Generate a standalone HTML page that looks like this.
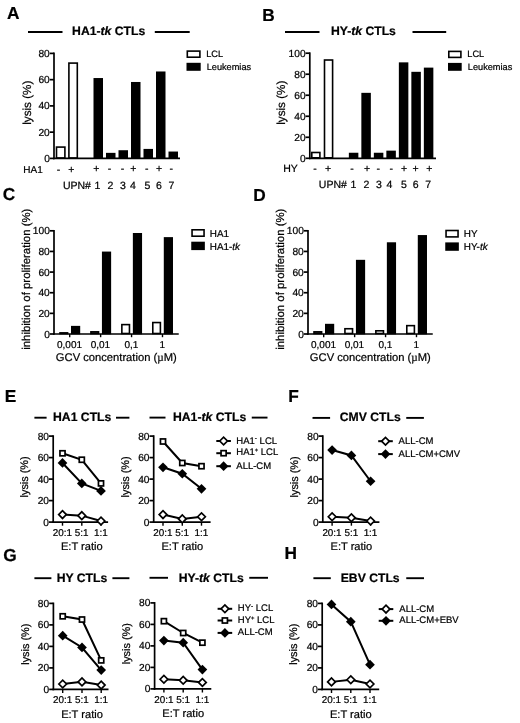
<!DOCTYPE html>
<html><head><meta charset="utf-8"><title>Figure</title>
<style>
html,body{margin:0;padding:0;background:#fff;}
svg{display:block;font-family:"Liberation Sans",sans-serif;fill:#000;}
text{stroke:#000;stroke-width:0.22px;text-rendering:geometricPrecision;}
</style></head><body>
<svg width="520" height="723" viewBox="0 0 520 723">
<rect width="520" height="723" fill="#fff"/>
<text x="6.9" y="18.7" font-size="17.3" text-anchor="start" font-weight="bold">A</text>
<line x1="28" y1="32" x2="62.5" y2="32" stroke="#000" stroke-width="1.9"/>
<line x1="154.8" y1="32" x2="189.7" y2="32" stroke="#000" stroke-width="1.9"/>
<text x="108.7" y="35.3" font-size="12.2" text-anchor="middle" font-weight="bold">HA1-<tspan font-style="italic">tk</tspan> CTLs</text>
<line x1="54" y1="52.55" x2="54" y2="159.25" stroke="#000" stroke-width="1.7"/>
<line x1="49.8" y1="158.4" x2="54" y2="158.4" stroke="#000" stroke-width="1.7"/>
<text x="49.8" y="161.9" font-size="10.2" text-anchor="end">0</text>
<line x1="49.8" y1="132.15" x2="54" y2="132.15" stroke="#000" stroke-width="1.7"/>
<text x="49.8" y="135.65" font-size="10.2" text-anchor="end">20</text>
<line x1="49.8" y1="105.9" x2="54" y2="105.9" stroke="#000" stroke-width="1.7"/>
<text x="49.8" y="109.4" font-size="10.2" text-anchor="end">40</text>
<line x1="49.8" y1="79.65" x2="54" y2="79.65" stroke="#000" stroke-width="1.7"/>
<text x="49.8" y="83.15" font-size="10.2" text-anchor="end">60</text>
<line x1="49.8" y1="53.400000000000006" x2="54" y2="53.400000000000006" stroke="#000" stroke-width="1.7"/>
<text x="49.8" y="56.900000000000006" font-size="10.2" text-anchor="end">80</text>
<line x1="53.15" y1="158.4" x2="180" y2="158.4" stroke="#000" stroke-width="1.7"/>
<text transform="translate(30.5,102.7) rotate(-90) scale(1.0 1)" font-size="11.70" text-anchor="middle">lysis (%)</text>
<rect x="56.50" y="147.09" width="8.40" height="10.81" fill="#fff" stroke="#000" stroke-width="1.6"/>
<rect x="68.90" y="63.09" width="8.40" height="94.81" fill="#fff" stroke="#000" stroke-width="1.6"/>
<rect x="93.5" y="78.03750000000001" width="9.5" height="80.6625" fill="#000"/>
<rect x="106.0" y="152.85" width="9.5" height="5.85" fill="#000"/>
<rect x="118.5" y="150.225" width="9.5" height="8.475000000000001" fill="#000"/>
<rect x="131.0" y="81.97500000000001" width="9.5" height="76.725" fill="#000"/>
<rect x="143.5" y="148.9125" width="9.5" height="9.787500000000001" fill="#000"/>
<rect x="156.0" y="71.47500000000001" width="9.5" height="87.225" fill="#000"/>
<rect x="168.5" y="151.5375" width="9.5" height="7.1625" fill="#000"/>
<text x="23.3" y="172.6" font-size="10.0" text-anchor="start">HA1</text>
<text x="58.6" y="172.6" font-size="10.5" text-anchor="middle">-</text>
<text x="71.4" y="172.6" font-size="10.5" text-anchor="middle">+</text>
<text x="96.4" y="172.0" font-size="10.5" text-anchor="middle">+</text>
<text x="109.6" y="172.0" font-size="10.5" text-anchor="middle">-</text>
<text x="122.4" y="172.0" font-size="10.5" text-anchor="middle">-</text>
<text x="133.4" y="172.0" font-size="10.5" text-anchor="middle">+</text>
<text x="146.8" y="172.0" font-size="10.5" text-anchor="middle">-</text>
<text x="159" y="172.0" font-size="10.5" text-anchor="middle">+</text>
<text x="171.3" y="172.0" font-size="10.5" text-anchor="middle">-</text>
<text x="62.9" y="188.6" font-size="10.5" text-anchor="start">UPN#</text>
<text x="97.3" y="188.6" font-size="10.5" text-anchor="middle">1</text>
<text x="110.3" y="188.6" font-size="10.5" text-anchor="middle">2</text>
<text x="122.8" y="188.6" font-size="10.5" text-anchor="middle">3</text>
<text x="133" y="188.6" font-size="10.5" text-anchor="middle">4</text>
<text x="147.3" y="188.6" font-size="10.5" text-anchor="middle">5</text>
<text x="159" y="188.6" font-size="10.5" text-anchor="middle">6</text>
<text x="171.5" y="188.6" font-size="10.5" text-anchor="middle">7</text>
<rect x="187.30" y="51.10" width="12.60" height="6.10" fill="#fff" stroke="#000" stroke-width="1.6"/>
<text x="206.2" y="57.3" font-size="9.2" text-anchor="start">LCL</text>
<rect x="186.5" y="62.8" width="14.2" height="8" fill="#000"/>
<text x="206.7" y="69.9" font-size="9.2" text-anchor="start">Leukemias</text>
<text x="262.2" y="20.5" font-size="17.3" text-anchor="start" font-weight="bold">B</text>
<line x1="285" y1="32" x2="319.5" y2="32" stroke="#000" stroke-width="1.9"/>
<line x1="412.5" y1="32" x2="446.2" y2="32" stroke="#000" stroke-width="1.9"/>
<text x="363.4" y="35.3" font-size="12.2" text-anchor="middle" font-weight="bold">HY-<tspan font-style="italic">tk</tspan> CTLs</text>
<line x1="309.8" y1="52.35" x2="309.8" y2="159.15" stroke="#000" stroke-width="1.7"/>
<line x1="305.6" y1="158.3" x2="309.8" y2="158.3" stroke="#000" stroke-width="1.7"/>
<text x="305.6" y="161.8" font-size="10.2" text-anchor="end">0</text>
<line x1="305.6" y1="137.28" x2="309.8" y2="137.28" stroke="#000" stroke-width="1.7"/>
<text x="305.6" y="140.78" font-size="10.2" text-anchor="end">20</text>
<line x1="305.6" y1="116.26000000000002" x2="309.8" y2="116.26000000000002" stroke="#000" stroke-width="1.7"/>
<text x="305.6" y="119.76000000000002" font-size="10.2" text-anchor="end">40</text>
<line x1="305.6" y1="95.24000000000001" x2="309.8" y2="95.24000000000001" stroke="#000" stroke-width="1.7"/>
<text x="305.6" y="98.74000000000001" font-size="10.2" text-anchor="end">60</text>
<line x1="305.6" y1="74.22000000000001" x2="309.8" y2="74.22000000000001" stroke="#000" stroke-width="1.7"/>
<text x="305.6" y="77.72000000000001" font-size="10.2" text-anchor="end">80</text>
<line x1="305.6" y1="53.20000000000002" x2="309.8" y2="53.20000000000002" stroke="#000" stroke-width="1.7"/>
<text x="305.6" y="56.70000000000002" font-size="10.2" text-anchor="end">100</text>
<line x1="308.95" y1="158.3" x2="436" y2="158.3" stroke="#000" stroke-width="1.7"/>
<text transform="translate(285,102.7) rotate(-90) scale(1.0 1)" font-size="11.70" text-anchor="middle">lysis (%)</text>
<rect x="311.80" y="152.49" width="8.10" height="5.31" fill="#fff" stroke="#000" stroke-width="1.6"/>
<rect x="324.50" y="60.01" width="8.10" height="97.79" fill="#fff" stroke="#000" stroke-width="1.6"/>
<rect x="348.85" y="152.745" width="9.5" height="5.855" fill="#000"/>
<rect x="361.35" y="92.83800000000001" width="9.5" height="65.762" fill="#000"/>
<rect x="373.85" y="152.745" width="9.5" height="5.855" fill="#000"/>
<rect x="386.35" y="150.643" width="9.5" height="7.957000000000001" fill="#000"/>
<rect x="398.85" y="62.358999999999995" width="9.5" height="96.24100000000001" fill="#000"/>
<rect x="411.35" y="71.818" width="9.5" height="86.78200000000001" fill="#000"/>
<rect x="423.85" y="67.614" width="9.5" height="90.986" fill="#000"/>
<text x="283.2" y="172.4" font-size="10.5" text-anchor="start">HY</text>
<text x="314.9" y="171.8" font-size="10.5" text-anchor="middle">-</text>
<text x="328.1" y="171.8" font-size="10.5" text-anchor="middle">+</text>
<text x="351.9" y="171.8" font-size="10.5" text-anchor="middle">-</text>
<text x="367" y="171.8" font-size="10.5" text-anchor="middle">+</text>
<text x="378.2" y="171.8" font-size="10.5" text-anchor="middle">-</text>
<text x="391.25" y="171.8" font-size="10.5" text-anchor="middle">-</text>
<text x="404.0" y="171.8" font-size="10.5" text-anchor="middle">+</text>
<text x="415.5" y="171.8" font-size="10.5" text-anchor="middle">+</text>
<text x="429.4" y="171.8" font-size="10.5" text-anchor="middle">+</text>
<text x="318.8" y="188.4" font-size="10.5" text-anchor="start">UPN#</text>
<text x="353.3" y="188.4" font-size="10.5" text-anchor="middle">1</text>
<text x="366.5" y="188.4" font-size="10.5" text-anchor="middle">2</text>
<text x="379" y="188.4" font-size="10.5" text-anchor="middle">3</text>
<text x="389.5" y="188.4" font-size="10.5" text-anchor="middle">4</text>
<text x="403.8" y="188.4" font-size="10.5" text-anchor="middle">5</text>
<text x="415.7" y="188.4" font-size="10.5" text-anchor="middle">6</text>
<text x="428.1" y="188.4" font-size="10.5" text-anchor="middle">7</text>
<rect x="448.80" y="51.40" width="12.10" height="6.00" fill="#fff" stroke="#000" stroke-width="1.6"/>
<text x="467.3" y="57.3" font-size="9.2" text-anchor="start">LCL</text>
<rect x="448" y="62.9" width="13.7" height="7.9" fill="#000"/>
<text x="467.8" y="69.9" font-size="9.2" text-anchor="start">Leukemias</text>
<text x="2.8" y="200.2" font-size="17.3" text-anchor="start" font-weight="bold">C</text>
<line x1="54" y1="229.95000000000002" x2="54" y2="334.85" stroke="#000" stroke-width="1.7"/>
<line x1="49.8" y1="334.0" x2="54" y2="334.0" stroke="#000" stroke-width="1.7"/>
<text x="49.8" y="337.5" font-size="10.2" text-anchor="end">0</text>
<line x1="49.8" y1="313.36" x2="54" y2="313.36" stroke="#000" stroke-width="1.7"/>
<text x="49.8" y="316.86" font-size="10.2" text-anchor="end">20</text>
<line x1="49.8" y1="292.72" x2="54" y2="292.72" stroke="#000" stroke-width="1.7"/>
<text x="49.8" y="296.22" font-size="10.2" text-anchor="end">40</text>
<line x1="49.8" y1="272.08000000000004" x2="54" y2="272.08000000000004" stroke="#000" stroke-width="1.7"/>
<text x="49.8" y="275.58000000000004" font-size="10.2" text-anchor="end">60</text>
<line x1="49.8" y1="251.44" x2="54" y2="251.44" stroke="#000" stroke-width="1.7"/>
<text x="49.8" y="254.94" font-size="10.2" text-anchor="end">80</text>
<line x1="49.8" y1="230.8" x2="54" y2="230.8" stroke="#000" stroke-width="1.7"/>
<text x="49.8" y="234.3" font-size="10.2" text-anchor="end">100</text>
<line x1="53.15" y1="334.0" x2="178.75" y2="334.0" stroke="#000" stroke-width="1.7"/>
<text transform="translate(30,279.2) rotate(-90) scale(1.0 1)" font-size="11.40" text-anchor="middle">inhibition of proliferation (%)</text>
<line x1="69.7" y1="334.0" x2="69.7" y2="337.2" stroke="#000" stroke-width="1.4"/>
<rect x="60.00" y="332.87" width="7.60" height="0.63" fill="#fff" stroke="#000" stroke-width="1.6"/>
<rect x="71.0" y="325.876" width="9.2" height="8.424" fill="#000"/>
<text x="69.5" y="347.8" font-size="10" text-anchor="middle">0,001</text>
<line x1="100.63" y1="334.0" x2="100.63" y2="337.2" stroke="#000" stroke-width="1.4"/>
<rect x="90.93" y="331.84" width="7.60" height="1.66" fill="#fff" stroke="#000" stroke-width="1.6"/>
<rect x="101.92999999999999" y="251.572" width="9.2" height="82.728" fill="#000"/>
<text x="100.42999999999999" y="347.8" font-size="10" text-anchor="middle">0,01</text>
<line x1="131.56" y1="334.0" x2="131.56" y2="337.2" stroke="#000" stroke-width="1.4"/>
<rect x="121.86" y="324.61" width="7.60" height="8.89" fill="#fff" stroke="#000" stroke-width="1.6"/>
<rect x="132.86" y="232.996" width="9.2" height="101.30399999999999" fill="#000"/>
<text x="131.36" y="347.8" font-size="10" text-anchor="middle">0,1</text>
<line x1="162.49" y1="334.0" x2="162.49" y2="337.2" stroke="#000" stroke-width="1.4"/>
<rect x="152.79" y="322.55" width="7.60" height="10.95" fill="#fff" stroke="#000" stroke-width="1.6"/>
<rect x="163.79000000000002" y="237.12400000000002" width="9.2" height="97.17599999999999" fill="#000"/>
<text x="162.29000000000002" y="347.8" font-size="10" text-anchor="middle">1</text>
<text x="116.3" y="361.2" font-size="11.2" text-anchor="middle">GCV concentration (<tspan font-family="Liberation Serif,serif">µ</tspan>M)</text>
<rect x="192.05" y="229.80" width="12.00" height="6.40" fill="#fff" stroke="#000" stroke-width="1.6"/>
<text x="209.8" y="236.7" font-size="9.9" text-anchor="start">HA1</text>
<rect x="191.25" y="241.7" width="13.6" height="8.4" fill="#000"/>
<text x="209.8" y="249.6" font-size="9.9" text-anchor="start">HA1-<tspan font-style="italic">tk</tspan></text>
<text x="253.20000000000002" y="200.6" font-size="17.3" text-anchor="start" font-weight="bold">D</text>
<line x1="308" y1="229.95000000000002" x2="308" y2="334.85" stroke="#000" stroke-width="1.7"/>
<line x1="303.8" y1="334.0" x2="308" y2="334.0" stroke="#000" stroke-width="1.7"/>
<text x="303.8" y="337.5" font-size="10.2" text-anchor="end">0</text>
<line x1="303.8" y1="313.36" x2="308" y2="313.36" stroke="#000" stroke-width="1.7"/>
<text x="303.8" y="316.86" font-size="10.2" text-anchor="end">20</text>
<line x1="303.8" y1="292.72" x2="308" y2="292.72" stroke="#000" stroke-width="1.7"/>
<text x="303.8" y="296.22" font-size="10.2" text-anchor="end">40</text>
<line x1="303.8" y1="272.08000000000004" x2="308" y2="272.08000000000004" stroke="#000" stroke-width="1.7"/>
<text x="303.8" y="275.58000000000004" font-size="10.2" text-anchor="end">60</text>
<line x1="303.8" y1="251.44" x2="308" y2="251.44" stroke="#000" stroke-width="1.7"/>
<text x="303.8" y="254.94" font-size="10.2" text-anchor="end">80</text>
<line x1="303.8" y1="230.8" x2="308" y2="230.8" stroke="#000" stroke-width="1.7"/>
<text x="303.8" y="234.3" font-size="10.2" text-anchor="end">100</text>
<line x1="307.15" y1="334.0" x2="432.75" y2="334.0" stroke="#000" stroke-width="1.7"/>
<text transform="translate(284,279.2) rotate(-90) scale(1.0 1)" font-size="11.40" text-anchor="middle">inhibition of proliferation (%)</text>
<line x1="323.7" y1="334.0" x2="323.7" y2="337.2" stroke="#000" stroke-width="1.4"/>
<rect x="314.00" y="331.84" width="7.60" height="1.66" fill="#fff" stroke="#000" stroke-width="1.6"/>
<rect x="325.0" y="323.812" width="9.2" height="10.488" fill="#000"/>
<text x="323.5" y="347.8" font-size="10" text-anchor="middle">0,001</text>
<line x1="354.63" y1="334.0" x2="354.63" y2="337.2" stroke="#000" stroke-width="1.4"/>
<rect x="344.93" y="328.74" width="7.60" height="4.76" fill="#fff" stroke="#000" stroke-width="1.6"/>
<rect x="355.93" y="259.828" width="9.2" height="74.472" fill="#000"/>
<text x="354.43" y="347.8" font-size="10" text-anchor="middle">0,01</text>
<line x1="385.56" y1="334.0" x2="385.56" y2="337.2" stroke="#000" stroke-width="1.4"/>
<rect x="375.86" y="330.80" width="7.60" height="2.70" fill="#fff" stroke="#000" stroke-width="1.6"/>
<rect x="386.86" y="242.284" width="9.2" height="92.01599999999999" fill="#000"/>
<text x="385.36" y="347.8" font-size="10" text-anchor="middle">0,1</text>
<line x1="416.49" y1="334.0" x2="416.49" y2="337.2" stroke="#000" stroke-width="1.4"/>
<rect x="406.79" y="325.64" width="7.60" height="7.86" fill="#fff" stroke="#000" stroke-width="1.6"/>
<rect x="417.79" y="235.06" width="9.2" height="99.23999999999998" fill="#000"/>
<text x="416.29" y="347.8" font-size="10" text-anchor="middle">1</text>
<text x="370.3" y="361.2" font-size="11.2" text-anchor="middle">GCV concentration (<tspan font-family="Liberation Serif,serif">µ</tspan>M)</text>
<rect x="446.05" y="230.50" width="12.00" height="6.40" fill="#fff" stroke="#000" stroke-width="1.6"/>
<text x="463.8" y="237.04999999999998" font-size="9.9" text-anchor="start">HY</text>
<rect x="445.25" y="242.39999999999998" width="13.6" height="8.4" fill="#000"/>
<text x="463.8" y="249.95" font-size="9.9" text-anchor="start">HY-<tspan font-style="italic">tk</tspan></text>
<text x="4.7" y="401.9" font-size="17.3" text-anchor="start" font-weight="bold">E</text>
<line x1="34.4" y1="417.7" x2="46.6" y2="417.7" stroke="#000" stroke-width="1.9"/>
<line x1="116" y1="417.7" x2="129.4" y2="417.7" stroke="#000" stroke-width="1.9"/>
<text x="82.2" y="421.3" font-size="12.2" text-anchor="middle" font-weight="bold">HA1 CTLs</text>
<line x1="53.2" y1="435.25" x2="53.2" y2="522.95" stroke="#000" stroke-width="1.7"/>
<line x1="49.0" y1="522.1" x2="53.2" y2="522.1" stroke="#000" stroke-width="1.7"/>
<text x="49.0" y="525.6" font-size="10.2" text-anchor="end">0</text>
<line x1="49.0" y1="500.6" x2="53.2" y2="500.6" stroke="#000" stroke-width="1.7"/>
<text x="49.0" y="504.1" font-size="10.2" text-anchor="end">20</text>
<line x1="49.0" y1="479.1" x2="53.2" y2="479.1" stroke="#000" stroke-width="1.7"/>
<text x="49.0" y="482.6" font-size="10.2" text-anchor="end">40</text>
<line x1="49.0" y1="457.6" x2="53.2" y2="457.6" stroke="#000" stroke-width="1.7"/>
<text x="49.0" y="461.1" font-size="10.2" text-anchor="end">60</text>
<line x1="49.0" y1="436.1" x2="53.2" y2="436.1" stroke="#000" stroke-width="1.7"/>
<text x="49.0" y="439.6" font-size="10.2" text-anchor="end">80</text>
<line x1="52.35" y1="522.1" x2="108.1" y2="522.1" stroke="#000" stroke-width="1.7"/>
<line x1="62.5" y1="522.1" x2="62.5" y2="525.7" stroke="#000" stroke-width="1.4"/>
<line x1="81.80000000000001" y1="522.1" x2="81.80000000000001" y2="525.7" stroke="#000" stroke-width="1.4"/>
<line x1="101.0" y1="522.1" x2="101.0" y2="525.7" stroke="#000" stroke-width="1.4"/>
<text transform="translate(28.300000000000004,476.90000000000003) rotate(-90) scale(1.0 1)" font-size="10.90" text-anchor="middle">lysis (%)</text>
<polyline points="62.50,514.58 81.80,515.65 101.00,521.02" fill="none" stroke="#000" stroke-width="2.0"/>
<polyline points="62.50,453.30 81.80,459.75 101.00,483.40" fill="none" stroke="#000" stroke-width="2.0"/>
<polyline points="62.50,462.98 81.80,483.40 101.00,490.93" fill="none" stroke="#000" stroke-width="2.0"/>
<path d="M58.65 514.58L62.50 510.73L66.35 514.58L62.50 518.43Z" fill="#fff" stroke="#000" stroke-width="1.7"/>
<path d="M77.95 515.65L81.80 511.80L85.65 515.65L81.80 519.50Z" fill="#fff" stroke="#000" stroke-width="1.7"/>
<path d="M97.15 521.02L101.00 517.17L104.85 521.02L101.00 524.88Z" fill="#fff" stroke="#000" stroke-width="1.7"/>
<rect x="59.95" y="450.75" width="5.1" height="5.1" fill="#fff" stroke="#000" stroke-width="1.7"/>
<rect x="79.25" y="457.20" width="5.1" height="5.1" fill="#fff" stroke="#000" stroke-width="1.7"/>
<rect x="98.45" y="480.85" width="5.1" height="5.1" fill="#fff" stroke="#000" stroke-width="1.7"/>
<path d="M57.65 462.98L62.50 458.12L67.35 462.98L62.50 467.83Z" fill="#000"/>
<path d="M76.95 483.40L81.80 478.55L86.65 483.40L81.80 488.25Z" fill="#000"/>
<path d="M96.15 490.93L101.00 486.07L105.85 490.93L101.00 495.78Z" fill="#000"/>
<text x="62.4" y="535.9" font-size="9.9" text-anchor="middle">20:1</text>
<text x="81.70000000000002" y="535.9" font-size="9.9" text-anchor="middle">5:1</text>
<text x="100.9" y="535.9" font-size="9.9" text-anchor="middle">1:1</text>
<text x="81.80000000000001" y="550.4" font-size="11.1" text-anchor="middle">E:T ratio</text>
<line x1="149.5" y1="417.6" x2="165.5" y2="417.6" stroke="#000" stroke-width="1.9"/>
<line x1="251.75" y1="417.6" x2="267.5" y2="417.6" stroke="#000" stroke-width="1.9"/>
<text x="209.6" y="421.3" font-size="12.2" text-anchor="middle" font-weight="bold">HA1-<tspan font-style="italic">tk</tspan> CTLs</text>
<line x1="153.7" y1="435.25" x2="153.7" y2="522.95" stroke="#000" stroke-width="1.7"/>
<line x1="149.5" y1="522.1" x2="153.7" y2="522.1" stroke="#000" stroke-width="1.7"/>
<text x="149.5" y="525.6" font-size="10.2" text-anchor="end">0</text>
<line x1="149.5" y1="500.6" x2="153.7" y2="500.6" stroke="#000" stroke-width="1.7"/>
<text x="149.5" y="504.1" font-size="10.2" text-anchor="end">20</text>
<line x1="149.5" y1="479.1" x2="153.7" y2="479.1" stroke="#000" stroke-width="1.7"/>
<text x="149.5" y="482.6" font-size="10.2" text-anchor="end">40</text>
<line x1="149.5" y1="457.6" x2="153.7" y2="457.6" stroke="#000" stroke-width="1.7"/>
<text x="149.5" y="461.1" font-size="10.2" text-anchor="end">60</text>
<line x1="149.5" y1="436.1" x2="153.7" y2="436.1" stroke="#000" stroke-width="1.7"/>
<text x="149.5" y="439.6" font-size="10.2" text-anchor="end">80</text>
<line x1="152.85" y1="522.1" x2="210.6" y2="522.1" stroke="#000" stroke-width="1.7"/>
<line x1="163.0" y1="522.1" x2="163.0" y2="525.7" stroke="#000" stroke-width="1.4"/>
<line x1="182.29999999999998" y1="522.1" x2="182.29999999999998" y2="525.7" stroke="#000" stroke-width="1.4"/>
<line x1="201.5" y1="522.1" x2="201.5" y2="525.7" stroke="#000" stroke-width="1.4"/>
<text transform="translate(128.79999999999998,476.90000000000003) rotate(-90) scale(1.0 1)" font-size="10.90" text-anchor="middle">lysis (%)</text>
<polyline points="163.00,514.58 182.30,518.88 201.50,516.73" fill="none" stroke="#000" stroke-width="2.0"/>
<polyline points="163.00,441.48 182.30,462.98 201.50,466.20" fill="none" stroke="#000" stroke-width="2.0"/>
<polyline points="163.00,467.28 182.30,473.73 201.50,488.78" fill="none" stroke="#000" stroke-width="2.0"/>
<path d="M159.15 514.58L163.00 510.73L166.85 514.58L163.00 518.43Z" fill="#fff" stroke="#000" stroke-width="1.7"/>
<path d="M178.45 518.88L182.30 515.02L186.15 518.88L182.30 522.73Z" fill="#fff" stroke="#000" stroke-width="1.7"/>
<path d="M197.65 516.73L201.50 512.88L205.35 516.73L201.50 520.58Z" fill="#fff" stroke="#000" stroke-width="1.7"/>
<rect x="160.45" y="438.93" width="5.1" height="5.1" fill="#fff" stroke="#000" stroke-width="1.7"/>
<rect x="179.75" y="460.43" width="5.1" height="5.1" fill="#fff" stroke="#000" stroke-width="1.7"/>
<rect x="198.95" y="463.65" width="5.1" height="5.1" fill="#fff" stroke="#000" stroke-width="1.7"/>
<path d="M158.15 467.28L163.00 462.43L167.85 467.28L163.00 472.13Z" fill="#000"/>
<path d="M177.45 473.73L182.30 468.88L187.15 473.73L182.30 478.58Z" fill="#000"/>
<path d="M196.65 488.78L201.50 483.93L206.35 488.78L201.50 493.63Z" fill="#000"/>
<text x="162.9" y="535.9" font-size="9.9" text-anchor="middle">20:1</text>
<text x="182.2" y="535.9" font-size="9.9" text-anchor="middle">5:1</text>
<text x="201.4" y="535.9" font-size="9.9" text-anchor="middle">1:1</text>
<text x="182.29999999999998" y="550.4" font-size="11.1" text-anchor="middle">E:T ratio</text>
<line x1="216.29999999999998" y1="441" x2="230.9" y2="441" stroke="#000" stroke-width="2.0"/>
<path d="M219.75 441.00L223.60 437.15L227.45 441.00L223.60 444.85Z" fill="#fff" stroke="#000" stroke-width="1.7"/>
<text x="236.3" y="443.5" font-size="9.5" text-anchor="start">HA1<tspan dy="-3.2" font-size="6.5">-</tspan><tspan dy="3.2"> LCL</tspan></text>
<line x1="216.29999999999998" y1="453.2" x2="230.9" y2="453.2" stroke="#000" stroke-width="2.0"/>
<rect x="221.05" y="450.65" width="5.1" height="5.1" fill="#fff" stroke="#000" stroke-width="1.7"/>
<text x="236.3" y="454.8" font-size="9.5" text-anchor="start">HA1<tspan dy="-3.2" font-size="5.8">+</tspan><tspan dy="3.2"> LCL</tspan></text>
<line x1="216.29999999999998" y1="466.2" x2="230.9" y2="466.2" stroke="#000" stroke-width="2.0"/>
<path d="M218.75 466.20L223.60 461.35L228.45 466.20L223.60 471.05Z" fill="#000"/>
<text x="236.3" y="468.7" font-size="9.5" text-anchor="start">ALL-CM</text>
<text x="288.3" y="402" font-size="17.3" text-anchor="start" font-weight="bold">F</text>
<line x1="312.5" y1="417.9" x2="330.1" y2="417.9" stroke="#000" stroke-width="1.9"/>
<line x1="406.25" y1="417.9" x2="423.9" y2="417.9" stroke="#000" stroke-width="1.9"/>
<text x="370.2" y="421.4" font-size="12.2" text-anchor="middle" font-weight="bold">CMV CTLs</text>
<line x1="322.8" y1="435.25" x2="322.8" y2="522.95" stroke="#000" stroke-width="1.7"/>
<line x1="318.6" y1="522.1" x2="322.8" y2="522.1" stroke="#000" stroke-width="1.7"/>
<text x="318.6" y="525.6" font-size="10.2" text-anchor="end">0</text>
<line x1="318.6" y1="500.6" x2="322.8" y2="500.6" stroke="#000" stroke-width="1.7"/>
<text x="318.6" y="504.1" font-size="10.2" text-anchor="end">20</text>
<line x1="318.6" y1="479.1" x2="322.8" y2="479.1" stroke="#000" stroke-width="1.7"/>
<text x="318.6" y="482.6" font-size="10.2" text-anchor="end">40</text>
<line x1="318.6" y1="457.6" x2="322.8" y2="457.6" stroke="#000" stroke-width="1.7"/>
<text x="318.6" y="461.1" font-size="10.2" text-anchor="end">60</text>
<line x1="318.6" y1="436.1" x2="322.8" y2="436.1" stroke="#000" stroke-width="1.7"/>
<text x="318.6" y="439.6" font-size="10.2" text-anchor="end">80</text>
<line x1="321.95" y1="522.1" x2="379.4" y2="522.1" stroke="#000" stroke-width="1.7"/>
<line x1="332.1" y1="522.1" x2="332.1" y2="525.7" stroke="#000" stroke-width="1.4"/>
<line x1="351.40000000000003" y1="522.1" x2="351.40000000000003" y2="525.7" stroke="#000" stroke-width="1.4"/>
<line x1="370.6" y1="522.1" x2="370.6" y2="525.7" stroke="#000" stroke-width="1.4"/>
<text transform="translate(297.90000000000003,476.90000000000003) rotate(-90) scale(1.0 1)" font-size="10.90" text-anchor="middle">lysis (%)</text>
<polyline points="332.10,516.73 351.40,517.80 370.60,521.02" fill="none" stroke="#000" stroke-width="2.0"/>
<polyline points="332.10,450.08 351.40,455.45 370.60,481.25" fill="none" stroke="#000" stroke-width="2.0"/>
<path d="M328.25 516.73L332.10 512.88L335.95 516.73L332.10 520.58Z" fill="#fff" stroke="#000" stroke-width="1.7"/>
<path d="M347.55 517.80L351.40 513.95L355.25 517.80L351.40 521.65Z" fill="#fff" stroke="#000" stroke-width="1.7"/>
<path d="M366.75 521.02L370.60 517.17L374.45 521.02L370.60 524.88Z" fill="#fff" stroke="#000" stroke-width="1.7"/>
<path d="M327.25 450.08L332.10 445.23L336.95 450.08L332.10 454.93Z" fill="#000"/>
<path d="M346.55 455.45L351.40 450.60L356.25 455.45L351.40 460.30Z" fill="#000"/>
<path d="M365.75 481.25L370.60 476.40L375.45 481.25L370.60 486.10Z" fill="#000"/>
<text x="332.0" y="535.9" font-size="9.9" text-anchor="middle">20:1</text>
<text x="351.3" y="535.9" font-size="9.9" text-anchor="middle">5:1</text>
<text x="370.5" y="535.9" font-size="9.9" text-anchor="middle">1:1</text>
<text x="351.40000000000003" y="550.4" font-size="11.1" text-anchor="middle">E:T ratio</text>
<line x1="378.2" y1="441.2" x2="392.8" y2="441.2" stroke="#000" stroke-width="2.0"/>
<path d="M381.65 441.20L385.50 437.35L389.35 441.20L385.50 445.05Z" fill="#fff" stroke="#000" stroke-width="1.7"/>
<text x="398.6" y="443.7" font-size="9.5" text-anchor="start">ALL-CM</text>
<line x1="378.2" y1="454.1" x2="392.8" y2="454.1" stroke="#000" stroke-width="2.0"/>
<path d="M380.65 454.10L385.50 449.25L390.35 454.10L385.50 458.95Z" fill="#000"/>
<text x="398.6" y="456.6" font-size="9.5" text-anchor="start">ALL-CM+CMV</text>
<text x="3.2" y="560.9" font-size="17.3" text-anchor="start" font-weight="bold">G</text>
<line x1="34.4" y1="578.2" x2="51.4" y2="578.2" stroke="#000" stroke-width="1.9"/>
<line x1="112.4" y1="578.2" x2="129.4" y2="578.2" stroke="#000" stroke-width="1.9"/>
<text x="82" y="581.8" font-size="12.2" text-anchor="middle" font-weight="bold">HY CTLs</text>
<line x1="53.4" y1="602.55" x2="53.4" y2="690.25" stroke="#000" stroke-width="1.7"/>
<line x1="49.199999999999996" y1="689.4" x2="53.4" y2="689.4" stroke="#000" stroke-width="1.7"/>
<text x="49.199999999999996" y="692.9" font-size="10.2" text-anchor="end">0</text>
<line x1="49.199999999999996" y1="667.9" x2="53.4" y2="667.9" stroke="#000" stroke-width="1.7"/>
<text x="49.199999999999996" y="671.4" font-size="10.2" text-anchor="end">20</text>
<line x1="49.199999999999996" y1="646.4" x2="53.4" y2="646.4" stroke="#000" stroke-width="1.7"/>
<text x="49.199999999999996" y="649.9" font-size="10.2" text-anchor="end">40</text>
<line x1="49.199999999999996" y1="624.9" x2="53.4" y2="624.9" stroke="#000" stroke-width="1.7"/>
<text x="49.199999999999996" y="628.4" font-size="10.2" text-anchor="end">60</text>
<line x1="49.199999999999996" y1="603.4" x2="53.4" y2="603.4" stroke="#000" stroke-width="1.7"/>
<text x="49.199999999999996" y="606.9" font-size="10.2" text-anchor="end">80</text>
<line x1="52.55" y1="689.4" x2="108.5" y2="689.4" stroke="#000" stroke-width="1.7"/>
<line x1="62.7" y1="689.4" x2="62.7" y2="693.0" stroke="#000" stroke-width="1.4"/>
<line x1="82.0" y1="689.4" x2="82.0" y2="693.0" stroke="#000" stroke-width="1.4"/>
<line x1="101.19999999999999" y1="689.4" x2="101.19999999999999" y2="693.0" stroke="#000" stroke-width="1.4"/>
<text transform="translate(28.5,644.1999999999999) rotate(-90) scale(1.0 1)" font-size="10.90" text-anchor="middle">lysis (%)</text>
<polyline points="62.70,684.02 82.00,681.88 101.20,685.10" fill="none" stroke="#000" stroke-width="2.0"/>
<polyline points="62.70,616.30 82.00,619.52 101.20,660.38" fill="none" stroke="#000" stroke-width="2.0"/>
<polyline points="62.70,635.65 82.00,647.48 101.20,670.05" fill="none" stroke="#000" stroke-width="2.0"/>
<path d="M58.85 684.02L62.70 680.17L66.55 684.02L62.70 687.88Z" fill="#fff" stroke="#000" stroke-width="1.7"/>
<path d="M78.15 681.88L82.00 678.02L85.85 681.88L82.00 685.73Z" fill="#fff" stroke="#000" stroke-width="1.7"/>
<path d="M97.35 685.10L101.20 681.25L105.05 685.10L101.20 688.95Z" fill="#fff" stroke="#000" stroke-width="1.7"/>
<rect x="60.15" y="613.75" width="5.1" height="5.1" fill="#fff" stroke="#000" stroke-width="1.7"/>
<rect x="79.45" y="616.98" width="5.1" height="5.1" fill="#fff" stroke="#000" stroke-width="1.7"/>
<rect x="98.65" y="657.83" width="5.1" height="5.1" fill="#fff" stroke="#000" stroke-width="1.7"/>
<path d="M57.85 635.65L62.70 630.80L67.55 635.65L62.70 640.50Z" fill="#000"/>
<path d="M77.15 647.48L82.00 642.62L86.85 647.48L82.00 652.33Z" fill="#000"/>
<path d="M96.35 670.05L101.20 665.20L106.05 670.05L101.20 674.90Z" fill="#000"/>
<text x="62.6" y="703.1999999999999" font-size="9.9" text-anchor="middle">20:1</text>
<text x="81.9" y="703.1999999999999" font-size="9.9" text-anchor="middle">5:1</text>
<text x="101.1" y="703.1999999999999" font-size="9.9" text-anchor="middle">1:1</text>
<text x="82.0" y="717.6999999999999" font-size="11.1" text-anchor="middle">E:T ratio</text>
<line x1="149.5" y1="577.8" x2="168" y2="577.8" stroke="#000" stroke-width="1.9"/>
<line x1="249.25" y1="577.8" x2="268" y2="577.8" stroke="#000" stroke-width="1.9"/>
<text x="211.2" y="581.6" font-size="12.2" text-anchor="middle" font-weight="bold">HY-<tspan font-style="italic">tk</tspan> CTLs</text>
<line x1="154.6" y1="602.05" x2="154.6" y2="689.75" stroke="#000" stroke-width="1.7"/>
<line x1="150.4" y1="688.9" x2="154.6" y2="688.9" stroke="#000" stroke-width="1.7"/>
<text x="150.4" y="692.4" font-size="10.2" text-anchor="end">0</text>
<line x1="150.4" y1="667.4" x2="154.6" y2="667.4" stroke="#000" stroke-width="1.7"/>
<text x="150.4" y="670.9" font-size="10.2" text-anchor="end">20</text>
<line x1="150.4" y1="645.9" x2="154.6" y2="645.9" stroke="#000" stroke-width="1.7"/>
<text x="150.4" y="649.4" font-size="10.2" text-anchor="end">40</text>
<line x1="150.4" y1="624.4" x2="154.6" y2="624.4" stroke="#000" stroke-width="1.7"/>
<text x="150.4" y="627.9" font-size="10.2" text-anchor="end">60</text>
<line x1="150.4" y1="602.9" x2="154.6" y2="602.9" stroke="#000" stroke-width="1.7"/>
<text x="150.4" y="606.4" font-size="10.2" text-anchor="end">80</text>
<line x1="153.75" y1="688.9" x2="211.3" y2="688.9" stroke="#000" stroke-width="1.7"/>
<line x1="163.9" y1="688.9" x2="163.9" y2="692.5" stroke="#000" stroke-width="1.4"/>
<line x1="183.2" y1="688.9" x2="183.2" y2="692.5" stroke="#000" stroke-width="1.4"/>
<line x1="202.39999999999998" y1="688.9" x2="202.39999999999998" y2="692.5" stroke="#000" stroke-width="1.4"/>
<text transform="translate(129.7,643.6999999999999) rotate(-90) scale(1.0 1)" font-size="10.90" text-anchor="middle">lysis (%)</text>
<polyline points="163.90,679.23 183.20,680.30 202.40,682.45" fill="none" stroke="#000" stroke-width="2.0"/>
<polyline points="163.90,621.17 183.20,633.00 202.40,642.67" fill="none" stroke="#000" stroke-width="2.0"/>
<polyline points="163.90,640.52 183.20,642.67 202.40,669.55" fill="none" stroke="#000" stroke-width="2.0"/>
<path d="M160.05 679.23L163.90 675.38L167.75 679.23L163.90 683.08Z" fill="#fff" stroke="#000" stroke-width="1.7"/>
<path d="M179.35 680.30L183.20 676.45L187.05 680.30L183.20 684.15Z" fill="#fff" stroke="#000" stroke-width="1.7"/>
<path d="M198.55 682.45L202.40 678.60L206.25 682.45L202.40 686.30Z" fill="#fff" stroke="#000" stroke-width="1.7"/>
<rect x="161.35" y="618.62" width="5.1" height="5.1" fill="#fff" stroke="#000" stroke-width="1.7"/>
<rect x="180.65" y="630.45" width="5.1" height="5.1" fill="#fff" stroke="#000" stroke-width="1.7"/>
<rect x="199.85" y="640.12" width="5.1" height="5.1" fill="#fff" stroke="#000" stroke-width="1.7"/>
<path d="M159.05 640.52L163.90 635.67L168.75 640.52L163.90 645.38Z" fill="#000"/>
<path d="M178.35 642.67L183.20 637.82L188.05 642.67L183.20 647.52Z" fill="#000"/>
<path d="M197.55 669.55L202.40 664.70L207.25 669.55L202.40 674.40Z" fill="#000"/>
<text x="163.8" y="702.6999999999999" font-size="9.9" text-anchor="middle">20:1</text>
<text x="183.1" y="702.6999999999999" font-size="9.9" text-anchor="middle">5:1</text>
<text x="202.29999999999998" y="702.6999999999999" font-size="9.9" text-anchor="middle">1:1</text>
<text x="183.2" y="717.1999999999999" font-size="11.1" text-anchor="middle">E:T ratio</text>
<line x1="217.6" y1="608.8" x2="232.20000000000002" y2="608.8" stroke="#000" stroke-width="2.0"/>
<path d="M221.05 608.80L224.90 604.95L228.75 608.80L224.90 612.65Z" fill="#fff" stroke="#000" stroke-width="1.7"/>
<text x="237.8" y="611.3" font-size="9.5" text-anchor="start">HY<tspan dy="-3.2" font-size="6.5">-</tspan><tspan dy="3.2"> LCL</tspan></text>
<line x1="217.6" y1="620.5" x2="232.20000000000002" y2="620.5" stroke="#000" stroke-width="2.0"/>
<rect x="222.35" y="617.95" width="5.1" height="5.1" fill="#fff" stroke="#000" stroke-width="1.7"/>
<text x="237.8" y="623.0" font-size="9.5" text-anchor="start">HY<tspan dy="-3.2" font-size="5.8">+</tspan><tspan dy="3.2"> LCL</tspan></text>
<line x1="217.6" y1="632.9" x2="232.20000000000002" y2="632.9" stroke="#000" stroke-width="2.0"/>
<path d="M220.05 632.90L224.90 628.05L229.75 632.90L224.90 637.75Z" fill="#000"/>
<text x="237.8" y="634.6" font-size="9.5" text-anchor="start">ALL-CM</text>
<text x="284.4" y="558.7" font-size="17.3" text-anchor="start" font-weight="bold">H</text>
<line x1="313.4" y1="578.2" x2="330.8" y2="578.2" stroke="#000" stroke-width="1.9"/>
<line x1="406.25" y1="578.2" x2="424" y2="578.2" stroke="#000" stroke-width="1.9"/>
<text x="370.2" y="581.8" font-size="12.2" text-anchor="middle" font-weight="bold">EBV CTLs</text>
<line x1="322.2" y1="602.55" x2="322.2" y2="690.25" stroke="#000" stroke-width="1.7"/>
<line x1="318.0" y1="689.4" x2="322.2" y2="689.4" stroke="#000" stroke-width="1.7"/>
<text x="318.0" y="692.9" font-size="10.2" text-anchor="end">0</text>
<line x1="318.0" y1="667.9" x2="322.2" y2="667.9" stroke="#000" stroke-width="1.7"/>
<text x="318.0" y="671.4" font-size="10.2" text-anchor="end">20</text>
<line x1="318.0" y1="646.4" x2="322.2" y2="646.4" stroke="#000" stroke-width="1.7"/>
<text x="318.0" y="649.9" font-size="10.2" text-anchor="end">40</text>
<line x1="318.0" y1="624.9" x2="322.2" y2="624.9" stroke="#000" stroke-width="1.7"/>
<text x="318.0" y="628.4" font-size="10.2" text-anchor="end">60</text>
<line x1="318.0" y1="603.4" x2="322.2" y2="603.4" stroke="#000" stroke-width="1.7"/>
<text x="318.0" y="606.9" font-size="10.2" text-anchor="end">80</text>
<line x1="321.34999999999997" y1="689.4" x2="379.2" y2="689.4" stroke="#000" stroke-width="1.7"/>
<line x1="331.5" y1="689.4" x2="331.5" y2="693.0" stroke="#000" stroke-width="1.4"/>
<line x1="350.8" y1="689.4" x2="350.8" y2="693.0" stroke="#000" stroke-width="1.4"/>
<line x1="370.0" y1="689.4" x2="370.0" y2="693.0" stroke="#000" stroke-width="1.4"/>
<text transform="translate(297.3,644.1999999999999) rotate(-90) scale(1.0 1)" font-size="10.90" text-anchor="middle">lysis (%)</text>
<polyline points="331.50,681.88 350.80,679.73 370.00,684.02" fill="none" stroke="#000" stroke-width="2.0"/>
<polyline points="331.50,604.48 350.80,621.67 370.00,664.67" fill="none" stroke="#000" stroke-width="2.0"/>
<path d="M327.65 681.88L331.50 678.02L335.35 681.88L331.50 685.73Z" fill="#fff" stroke="#000" stroke-width="1.7"/>
<path d="M346.95 679.73L350.80 675.88L354.65 679.73L350.80 683.58Z" fill="#fff" stroke="#000" stroke-width="1.7"/>
<path d="M366.15 684.02L370.00 680.17L373.85 684.02L370.00 687.88Z" fill="#fff" stroke="#000" stroke-width="1.7"/>
<path d="M326.65 604.48L331.50 599.62L336.35 604.48L331.50 609.33Z" fill="#000"/>
<path d="M345.95 621.67L350.80 616.82L355.65 621.67L350.80 626.52Z" fill="#000"/>
<path d="M365.15 664.67L370.00 659.82L374.85 664.67L370.00 669.52Z" fill="#000"/>
<text x="331.4" y="703.1999999999999" font-size="9.9" text-anchor="middle">20:1</text>
<text x="350.7" y="703.1999999999999" font-size="9.9" text-anchor="middle">5:1</text>
<text x="369.9" y="703.1999999999999" font-size="9.9" text-anchor="middle">1:1</text>
<text x="350.8" y="717.6999999999999" font-size="11.1" text-anchor="middle">E:T ratio</text>
<line x1="378.7" y1="609.1" x2="393.3" y2="609.1" stroke="#000" stroke-width="2.0"/>
<path d="M382.15 609.10L386.00 605.25L389.85 609.10L386.00 612.95Z" fill="#fff" stroke="#000" stroke-width="1.7"/>
<text x="399.3" y="611.6" font-size="9.5" text-anchor="start">ALL-CM</text>
<line x1="378.7" y1="620.8" x2="393.3" y2="620.8" stroke="#000" stroke-width="2.0"/>
<path d="M381.15 620.80L386.00 615.95L390.85 620.80L386.00 625.65Z" fill="#000"/>
<text x="399.3" y="623.3" font-size="9.5" text-anchor="start">ALL-CM+EBV</text>
</svg></body></html>
